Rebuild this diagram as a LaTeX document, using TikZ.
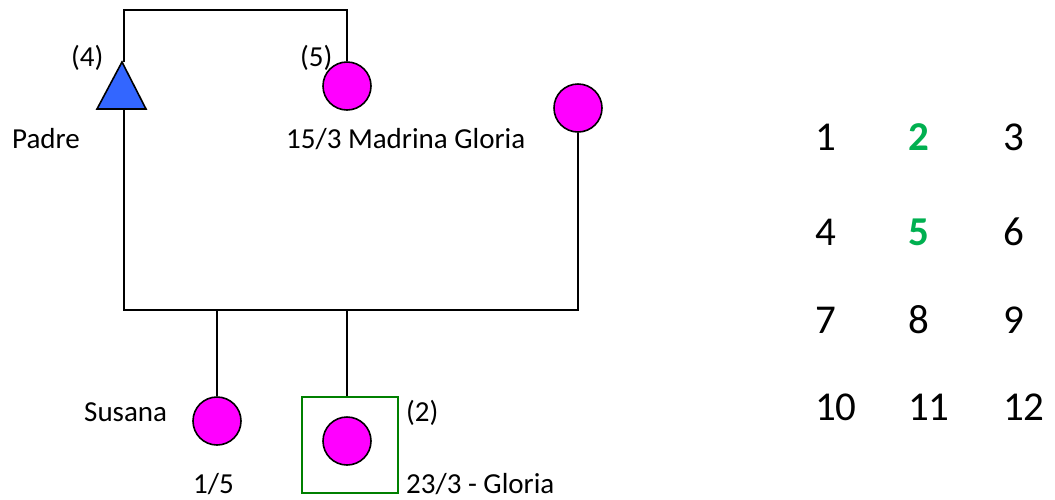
\documentclass[tikz,border=0pt]{standalone}
\usepackage{fontspec}
\setmainfont{Carlito}
\definecolor{triblue}{RGB}{51,102,255}
\definecolor{boxgreen}{RGB}{0,128,0}
\definecolor{numgreen}{RGB}{0,176,80}
\definecolor{fem}{RGB}{255,0,255}
\begin{document}
\begin{tikzpicture}[x=1pt,y=-1pt,
  lw/.style={line width=1.6pt},
  female/.style={circle,draw,lw,fill=fem,minimum size=48pt,inner sep=0pt},
  lbl/.style={anchor=base west,inner sep=0pt,font=\fontsize{29}{34}\selectfont},
  num/.style={anchor=base west,inner sep=0pt,font=\fontsize{41}{48}\selectfont},
  gnum/.style={num,text=numgreen,font=\fontsize{41}{48}\selectfont\bfseries},
  markbox/.style={draw=boxgreen,line width=2.4pt,minimum size=96pt,inner sep=0pt}]
\useasboundingbox (0,0) rectangle (1055,499);
% triangle (father)
\coordinate (triA) at (122,62);
\coordinate (triL) at (97,109);
\coordinate (triR) at (146,109);
\coordinate (triB) at (124,109);
\draw[lw,fill=triblue,line join=miter] (triA) -- (triR) -- (triL) -- cycle;
\coordinate (triT) at (124,62);
% circles
\node[female] (m5) at (347,86) {};
\node[female] (mR) at (578,108) {};
\node[female] (sus) at (217,421) {};
\node[markbox] (box) at (350,445) {};
\node[female] (glo) at (347,441) {};
% connectors
\coordinate (topbar) at (124,10);
\coordinate (hb) at (124,310);
\draw[lw] (triT) -- (topbar) -| (m5.north);
\draw[lw] (triB) -- (hb) -| (mR.south);
\draw[lw] (sus.north) -- (sus.north |- hb);
\draw[lw] (glo.north |- box.north) -- (glo.north |- hb);
% labels
\node[lbl] (l4) at (71,66) {(4)};
\node[lbl] (l5) at (300,66) {(5)};
\node[lbl] (lpadre) at (12,148) {Padre};
\node[lbl] (lmad) at (286,148) {15/3 Madrina Gloria};
\node[lbl] (lsus) at (84,421) {Susana};
\node[lbl] (l15) at (193,493) {1/5};
\node[lbl] (l2) at (406,421) {(2)};
\node[lbl] (lglo) at (406,493) {23/3 - Gloria};
% number grid
\node[num] (n1) at (815,150) {1};
\node[gnum] (n2) at (908,150) {2};
\node[num] (n3) at (1003,150) {3};
\node[num] (n4) at (815,245) {4};
\node[gnum] (n5) at (908,245) {5};
\node[num] (n6) at (1003,245) {6};
\node[num] (n7) at (815,333) {7};
\node[num] (n8) at (908,333) {8};
\node[num] (n9) at (1003,333) {9};
\node[num] (n10) at (815,420) {10};
\node[num] (n11) at (908,420) {11};
\node[num] (n12) at (1003,420) {12};
\end{tikzpicture}
\end{document}
